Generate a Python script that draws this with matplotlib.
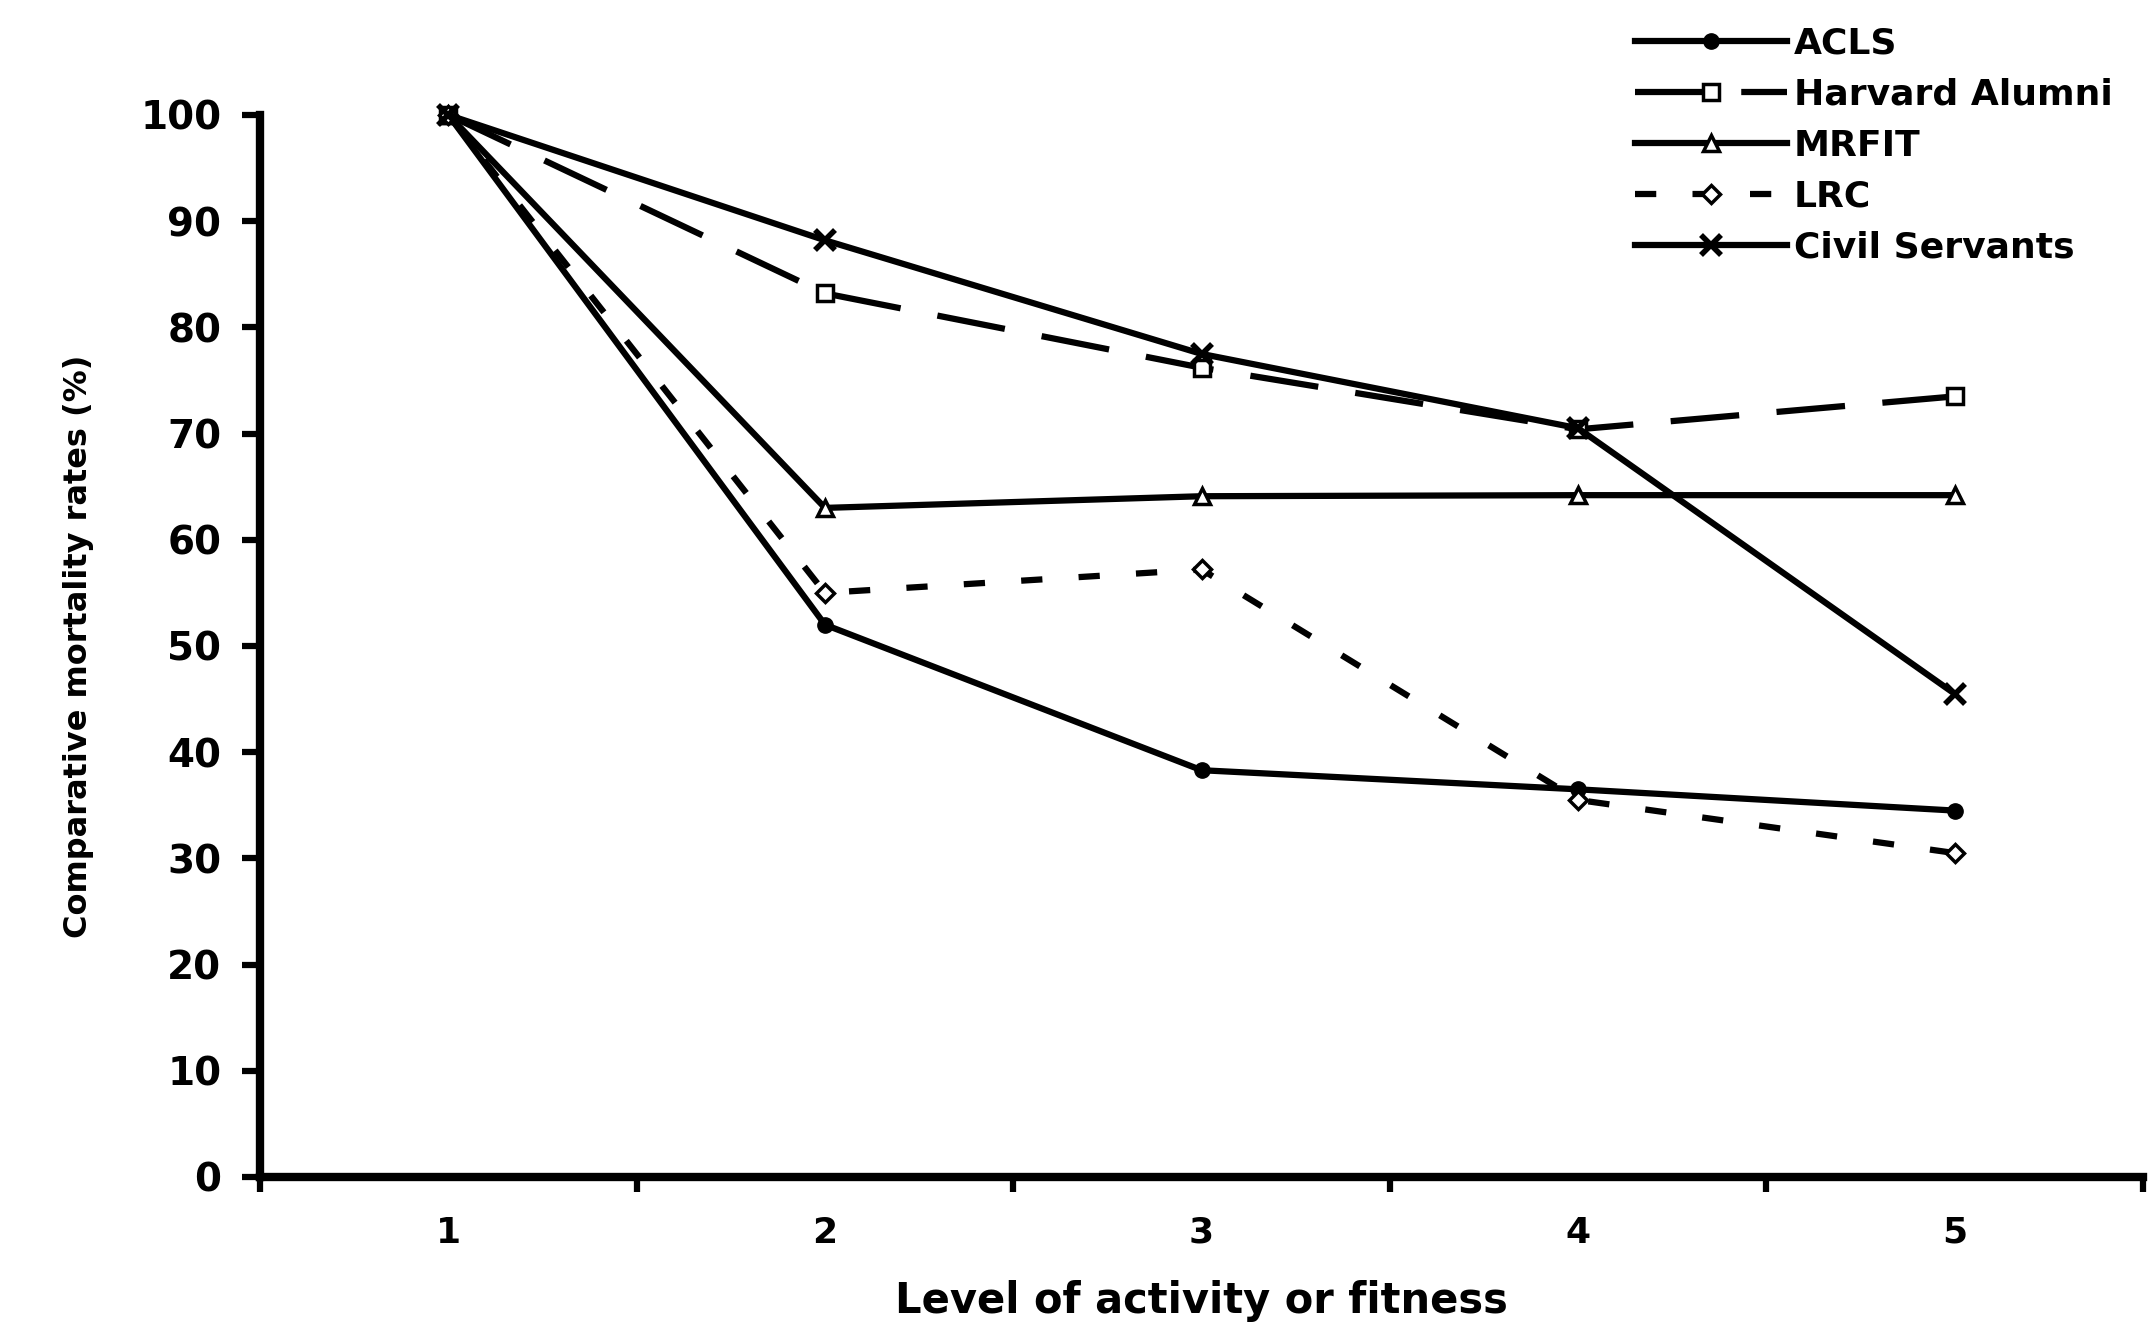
import matplotlib
matplotlib.use("Agg")
import matplotlib.pyplot as plt
from matplotlib.ticker import MultipleLocator, FixedLocator, NullFormatter

plt.rcParams['font.family'] = ['DejaVu Sans']
plt.rcParams['font.weight'] = 'bold'

levels = [1, 2, 3, 4, 5]
acls = [100, 52.0, 38.3, 36.5, 34.5]
harvard = [100, 83.2, 76.2, 70.4, 73.5]
mrfit = [100, 63.0, 64.1, 64.2, 64.2]
lrc = [100, 55.0, 57.2, 35.5, 30.5]
civil = [100, 88.2, 77.5, 70.5, 45.5]

fig = plt.figure(figsize=(21.5, 13.26), dpi=100)
ax = fig.add_axes([0.121, 0.1124, 0.8757, 0.8009])

lw = 4.5
ax.plot(levels, acls, color='black', lw=lw, marker='o', ms=11,
        mfc='black', mec='black', label='ACLS', clip_on=False, zorder=3)
ax.plot(levels, harvard, color='black', lw=lw, marker='s', ms=11,
        mfc='white', mec='black', mew=2.5, dashes=(11, 6),
        label='Harvard Alumni', clip_on=False, zorder=3)
ax.plot(levels, mrfit, color='black', lw=lw, marker='^', ms=12,
        mfc='white', mec='black', mew=2.5, label='MRFIT', clip_on=False, zorder=3)
ax.plot(levels, lrc, color='black', lw=lw, marker='D', ms=9,
        mfc='white', mec='black', mew=2.5, dashes=(3.4, 5.8),
        label='LRC', clip_on=False, zorder=3)
ax.plot(levels, civil, color='black', lw=lw, marker='x', ms=14,
        mec='black', mew=4, label='Civil Servants', clip_on=False, zorder=4)

ax.set_xlim(0.5, 5.5)
ax.set_ylim(0, 100)

# boundary ticks on x, labels at category centres
ax.xaxis.set_major_locator(FixedLocator([0.5, 1.5, 2.5, 3.5, 4.5, 5.5]))
ax.xaxis.set_major_formatter(NullFormatter())
ax.set_xticks(levels, [str(v) for v in levels], minor=True)
ax.tick_params(axis='x', which='major', direction='out', length=11, width=4.5)
ax.tick_params(axis='x', which='minor', length=0, pad=28, labelsize=26)
ax.yaxis.set_major_locator(MultipleLocator(10))
ax.tick_params(axis='y', direction='out', length=13, width=4.5, pad=15, labelsize=28)

for s in ['top', 'right']:
    ax.spines[s].set_visible(False)
for s in ['left', 'bottom']:
    ax.spines[s].set_linewidth(6)

ax.set_xlabel('Level of activity or fitness', fontsize=30, fontweight='bold')
ax.xaxis.set_label_coords(0.5, -0.097)
ax.set_ylabel('Comparative mortality rates (%)', fontsize=23, fontweight='bold')
ax.yaxis.set_label_coords(-0.088, 0.5)

fig.legend(loc='upper left', bbox_to_anchor=(1635 / 2150, 1 - 27 / 1326),
           frameon=False, handlelength=4.2, handletextpad=0.2,
           labelspacing=0.47, borderpad=0, borderaxespad=0,
           prop={'weight': 'bold', 'size': 26})

fig.savefig('out.png', dpi=100, facecolor='white')
